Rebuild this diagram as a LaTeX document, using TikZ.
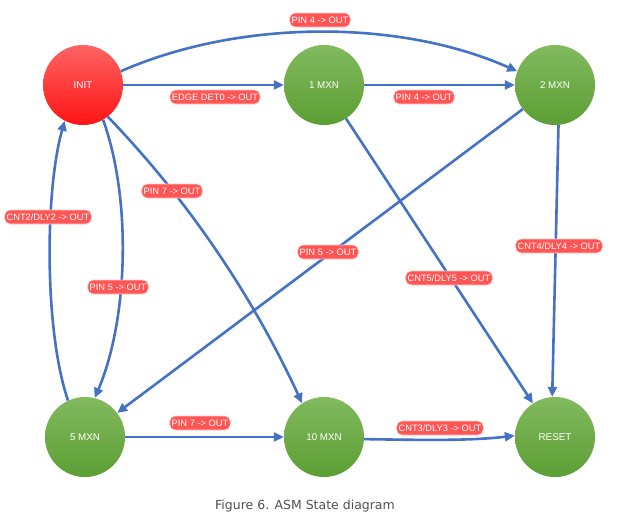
\documentclass[tikz,border=0pt]{standalone}
\usepackage{fontspec}
\setmainfont{Liberation Sans}
\newfontfamily\capfont{DejaVu Sans}
\usetikzlibrary{arrows.meta}
\definecolor{edgeblue}{RGB}{68,114,196}
\definecolor{lblred}{RGB}{255,85,85}
\definecolor{gtop}{RGB}{130,186,94}
\definecolor{gbot}{RGB}{92,158,52}
\definecolor{rtop}{RGB}{255,100,100}
\definecolor{rbot}{RGB}{255,20,20}
\definecolor{capgray}{RGB}{80,80,80}
\begin{document}
\begin{tikzpicture}[x=1pt,y=-1pt,
 state/.style={circle,minimum size=80pt,inner sep=0pt,text=white,font=\fontsize{9.8}{11}\selectfont,top color=gtop,bottom color=gbot,draw=none},
 initstate/.style={state,top color=rtop,bottom color=rbot},
 conn/.style={draw=edgeblue,line width=2.6pt,-{Triangle[length=10pt,width=9pt]}},
 lbl/.style={fill=lblred,draw=white!70!lblred,line width=0.6pt,rounded corners=5.5pt,text=white,font=\fontsize{9.3}{10}\selectfont,inner xsep=2pt,inner ysep=0pt,minimum height=14pt},
 ]
\useasboundingbox (0,0) rectangle (627,522);
\node[initstate] (init) at (83,85) {INIT};
\node[state] (mxn1) at (324,85) {1 MXN};
\node[state] (mxn2) at (555,85) {2 MXN};
\node[state] (mxn5) at (85,437) {5 MXN};
\node[state] (mxn10) at (324,437) {10 MXN};
\node[state] (reset) at (555,437) {RESET};

\draw[conn] (init) -- (mxn1);
\draw[conn] (mxn1) -- (mxn2);
\draw[conn] (init.20) .. controls (240,19) and (400,19) .. (mxn2.160);
\draw[conn] (init.-60) .. controls (132,200) and (128,320) .. (mxn5.76);
\draw[conn] (mxn5.115) .. controls (44,330) and (45,190) .. (init.-117);
\draw[conn] (init.-52) .. controls (189,201) and (253,297) .. (mxn10.123);
\draw[conn] (mxn2) -- (mxn5);
\draw[conn] (mxn1) -- (reset);
\draw[conn] (mxn2.-85) -- (reset.94);
\draw[conn] (mxn5) -- (mxn10);
\draw[conn] (mxn10.-3) .. controls (420,440) and (470,441) .. (reset.178);

\node[lbl] (l1) at (320,20) {PIN 4 -> OUT};
\node[lbl] (l2) at (215,97) {EDGE DET0 -> OUT};
\node[lbl] (l3) at (424,97) {PIN 4 -> OUT};
\node[lbl] (l4) at (172,191) {PIN 7 -> OUT};
\node[lbl] (l5) at (48,217) {CNT2/DLY2 -> OUT};
\node[lbl] (l6) at (118,287) {PIN 5 -> OUT};
\node[lbl] (l7) at (328,252) {PIN 5 -> OUT};
\node[lbl] (l8) at (449,278) {CNT5/DLY5 -> OUT};
\node[lbl] (l9) at (559,246) {CNT4/DLY4 -> OUT};
\node[lbl] (l10) at (200,423) {PIN 7 -> OUT};
\node[lbl] (l11) at (440,428) {CNT3/DLY3 -> OUT};

\node[text=capgray,font=\capfont\fontsize{12.5}{14}\selectfont] (cap) at (305,506) {Figure 6. ASM State diagram};
\end{tikzpicture}
\end{document}
